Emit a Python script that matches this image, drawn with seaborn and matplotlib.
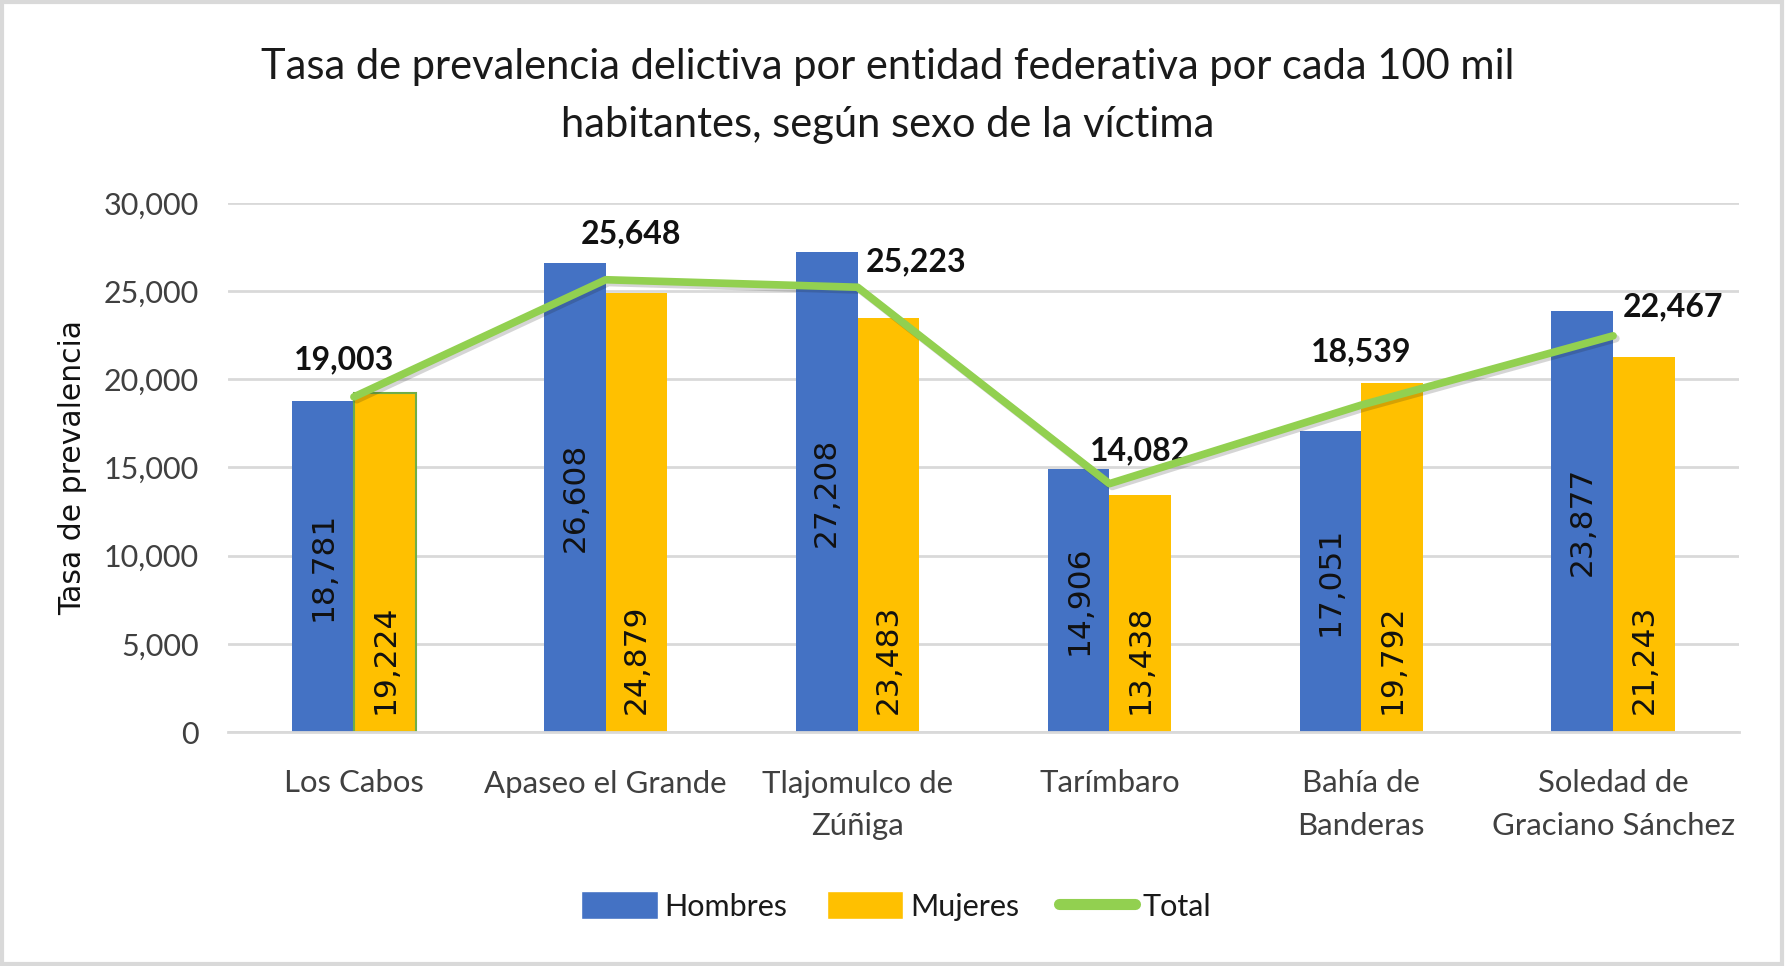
import matplotlib
matplotlib.use("Agg")
import matplotlib.pyplot as plt
import matplotlib.patheffects as pe
import seaborn as sns
import pandas as pd
from matplotlib.patches import Rectangle
from matplotlib.lines import Line2D

# ---- data ----
categorias = ["Los Cabos", "Apaseo el Grande", "Tlajomulco de\nZúñiga", "Tarímbaro",
              "Bahía de\nBanderas", "Soledad de\nGraciano Sánchez"]
hombres = [18781, 26608, 27208, 14906, 17051, 23877]
mujeres = [19224, 24879, 23483, 13438, 19792, 21243]
total = [19003, 25648, 25223, 14082, 18539, 22467]
series = ["Hombres", "Mujeres", "Total"]
yticks = [0, 5000, 10000, 15000, 20000, 25000, 30000]
titulo = "Tasa de prevalencia delictiva por entidad federativa por cada 100 mil\nhabitantes, según sexo de la víctima"
ylabel = "Tasa de prevalencia"

# ---- styles ----
BLUE = "#4472C4"
YELLOW = "#FFC000"
GREEN = "#92D050"
GRID = "#D9D9D9"
label_offsets_px = [(-10, 37), (25, 46), (58, 25), (31, 33), (0, 53), (60, 29)]

sns.set_theme(style="white")
plt.rcParams["font.family"] = ["Lato", "DejaVu Sans"]

df = pd.DataFrame({
    "categoria": categorias * 2,
    "valor": hombres + mujeres,
    "sexo": [series[0]] * len(categorias) + [series[1]] * len(categorias),
})

fig = plt.figure(figsize=(17.86, 9.66), dpi=100)
ax = fig.add_axes([228 / 1786, 1 - 732 / 966, (1739 - 228) / 1786, (732 - 203) / 966])

sns.barplot(data=df, x="categoria", y="valor", hue="sexo", palette=[BLUE, YELLOW],
            width=0.49, saturation=1, dodge=True, ax=ax, legend=False, errorbar=None,
            linewidth=0, zorder=2)

# Los Cabos Mujeres bar had a green outline
ax.containers[1].patches[0].set_edgecolor("#70AD47")
ax.containers[1].patches[0].set_linewidth(1.5)

# Blue labels centered, yellow labels at the base
ax.bar_label(ax.containers[0], labels=[f"{v:,}" for v in hombres], label_type="center",
             rotation=90, fontsize=22.5, family="DejaVu Sans", color="#111111")
for p, v in zip(ax.containers[1].patches, mujeres):
    ax.annotate(f"{v:,}", (p.get_x() + p.get_width() / 2, 0), xytext=(0, 18),
                textcoords="offset pixels", rotation=90, ha="center", va="bottom",
                fontsize=22.5, family="DejaVu Sans", color="#111111")

# Total line
xs = list(range(len(categorias)))
sns.lineplot(x=xs, y=total, ax=ax, color=GREEN, linewidth=5.5, zorder=4,
             solid_capstyle="round", solid_joinstyle="round", legend=False)
ax.lines[-1].set_path_effects([pe.SimpleLineShadow(offset=(2, -2), alpha=0.18), pe.Normal()])
for x, v, off in zip(xs, total, label_offsets_px):
    ax.annotate(f"{v:,}", (x, v), xytext=off, textcoords="offset pixels",
                ha="center", va="center", fontsize=23, fontweight="bold", color="#111111")

ax.set_xlim(-0.5, len(categorias) - 0.5)
ax.set_ylim(0, 30000)
ax.set_yticks(yticks)
ax.set_yticklabels([f"{t:,}" for t in yticks])
ax.yaxis.grid(True, color=GRID, linewidth=2, zorder=0)
ax.set_axisbelow(True)
for s in ["top", "right", "left"]:
    ax.spines[s].set_visible(False)
ax.spines["bottom"].set_color(GRID)
ax.spines["bottom"].set_linewidth(2)
ax.tick_params(axis="both", length=0, colors="#404040")
ax.tick_params(axis="y", pad=21, labelsize=22)
ax.tick_params(axis="x", pad=27, labelsize=22.4)
for t in ax.get_xticklabels():
    t.set_linespacing(1.62)
ax.set_xlabel("")
ax.set_ylabel(ylabel, family="DejaVu Sans", fontsize=21.5, color="#111111", labelpad=12)

fig.text(888 / 1786, 1 - 96 / 966, titulo, ha="center", va="center", fontsize=30,
         color="#1a1a1a", linespacing=1.65)

handles = [Rectangle((0, 0), 1, 1, facecolor=BLUE), Rectangle((0, 0), 1, 1, facecolor=YELLOW),
           Line2D([0], [0], color=GREEN, linewidth=8, solid_capstyle="round")]
fig.legend(handles, series, loc="center", bbox_to_anchor=(896 / 1786, 1 - 906 / 966), ncol=3,
           frameon=False, fontsize=22, handlelength=2.5, handleheight=1.0,
           handletextpad=0.22, columnspacing=1.3, labelcolor="#1a1a1a")

# figure border
fig.patches.append(Rectangle((0.001, 0.002), 0.997, 0.996, transform=fig.transFigure,
                             fill=False, edgecolor="#D9D9D9", linewidth=3))

fig.savefig("out.png", dpi=100)
